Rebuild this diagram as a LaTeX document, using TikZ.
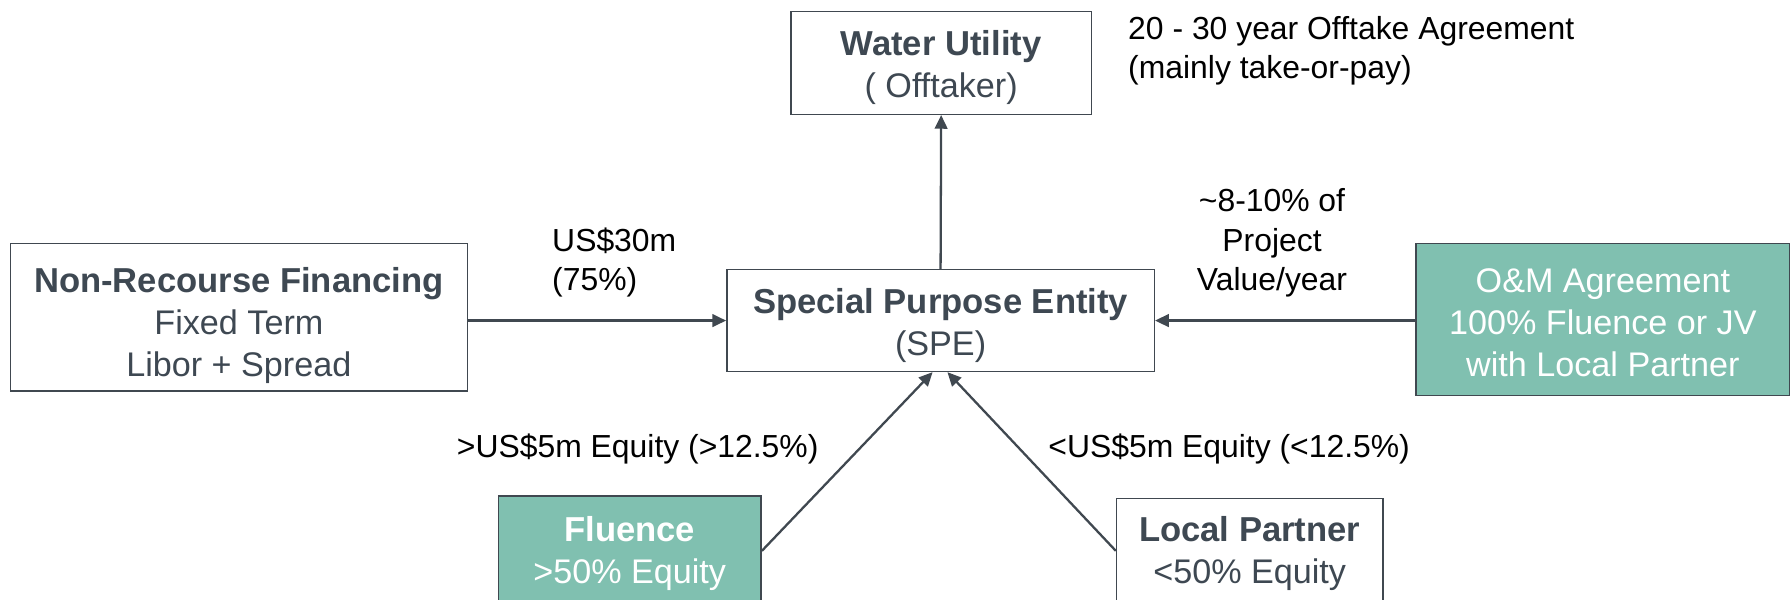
\documentclass[tikz,border=0pt]{standalone}
\usepackage{fontspec}
\setmainfont{Liberation Sans}
\usetikzlibrary{arrows.meta}
\definecolor{boxtext}{RGB}{62,72,82}
\definecolor{edgecol}{RGB}{64,72,80}
\definecolor{tealfill}{RGB}{128,192,176}
\begin{document}
\begin{tikzpicture}[x=1bp,y=-1bp,
  box/.style={draw=edgecol, line width=1.3bp, inner sep=0pt},
  fillbox/.style={box, fill=tealfill},
  boxtxt/.style={align=center, inner sep=0pt, text=boxtext, font=\fontsize{30}{37}\selectfont},
  filltxt/.style={boxtxt, text=white},
  arr/.style={draw=edgecol, line width=2bp, -{Triangle[length=12bp,width=11bp]}},
  lab/.style={font=\fontsize{28}{34.5}\selectfont, text=black, inner sep=0pt},
]
\useasboundingbox (0,0) rectangle (1568,525);
\clip (0,0) rectangle (1568,525);
\fill[white] (0,0) rectangle (1568,525);

% boxes
\node[box, minimum width=263bp, minimum height=90bp] (wu) at (823.5,55) {};
\node[box, minimum width=374bp, minimum height=89bp] (spe) at (823,280.5) {};
\node[box, minimum width=400bp, minimum height=129bp] (nrf) at (209,277.5) {};
\node[fillbox, minimum width=327bp, minimum height=133bp] (om) at (1402.5,279.5) {};
\node[fillbox, minimum width=230bp, minimum height=96bp] (fl) at (551,482) {};
\node[box, minimum width=233bp, minimum height=92bp] (lp) at (1093.5,482) {};

% box texts
\node[boxtxt] (wut) at (823.5,59)
  {{\fontsize{30.4}{37}\selectfont\bfseries Water Utility}\\( Offtaker)};
\node[boxtxt] (spet) at (823,285)
  {{\fontsize{30.4}{37}\selectfont\bfseries Special Purpose Entity}\\(SPE)};
\node[boxtxt] (nrft) at (209,284.5)
  {{\fontsize{30.4}{37}\selectfont\bfseries Non-Recourse Financing}\\Fixed Term\\Libor + Spread};
\node[filltxt] (omt) at (1402.5,282.5)
  {O\&M Agreement\\100\% Fluence or JV\\with Local Partner};
\node[filltxt] (flt) at (551,484.5)
  {{\fontsize{30.4}{37}\selectfont\bfseries Fluence}\\>50\% Equity};
\node[boxtxt] (lpt) at (1093.5,484.5)
  {{\fontsize{30.4}{37}\selectfont\bfseries Local Partner}\\<50\% Equity};

% connectors
\draw[arr] (spe.north) -- (wu.south);
\draw[arr] (nrf.east |- spe.west) -- (spe.west);
\draw[arr] (om.west |- spe.east) -- (spe.east);
\draw[arr] (fl.east) -- ([xshift=-7bp]spe.south);
\draw[arr] (lp.west) -- ([xshift=6bp]spe.south);

% labels
\node[lab, anchor=west, align=left] (offt) at (987,44.5)
  {20 - 30 year Offtake Agreement\\(mainly take-or-pay)};
\node[lab, anchor=west, align=left] (usd) at (483,229.5) {US\$30m\\(75\%)};
\node[lab, align=center] (omv) at (1113,212.5) {\textasciitilde8-10\% of\\Project\\Value/year};
\node[lab] (eqf) at (558,393) {>US\$5m Equity (>12.5\%)};
\node[lab] (eql) at (1075.5,393) {<US\$5m Equity (<12.5\%)};
\end{tikzpicture}
\end{document}
